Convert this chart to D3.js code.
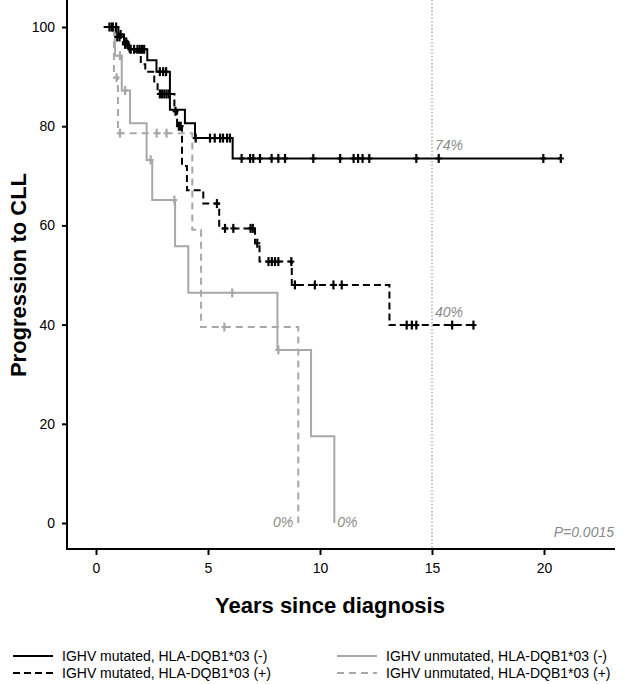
<!DOCTYPE html>
<html>
<head>
<meta charset="utf-8">
<script src="https://cdn.jsdelivr.net/npm/d3@7"></script>
<style>
  html, body { margin: 0; padding: 0; background: #fff; }
  svg { display: block; font-family: "Liberation Sans", Arial, Helvetica, sans-serif; }
</style>
</head>
<body>
<svg id="chart" width="633" height="684"></svg>
<script>
// ---------------- data ----------------
const xTicks = [0, 5, 10, 15, 20];
const yTicks = [0, 20, 40, 60, 80, 100];

// IGHV mutated, HLA-DQB1*03 (-)  (black solid)
const mutNegTimes = [0.35, 1.0, 1.25, 1.45, 2.29, 2.7, 3.3, 3.97, 4.42, 6.1];
const mutNegSurv  = [100, 98.5, 97, 95.5, 93.3, 91, 83.3, 80.6, 77.6, 73.5];
const mutNegEnd = 20.8;
const mutNegCensor = [0.6, 0.75, 0.9, 1.1, 1.35, 1.55, 1.7, 1.85, 1.95, 2.05, 2.15, 2.85, 3.0, 3.13,
  4.45, 5.09, 5.3, 5.54, 5.67, 5.85, 5.98, 6.5, 6.88, 7.02, 7.32, 7.84, 8.14, 8.44, 9.7, 10.9,
  11.5, 11.7, 11.9, 12.2, 14.3, 15.3, 19.97, 20.75];

// IGHV mutated, HLA-DQB1*03 (+)  (black dashed)
const mutPosTimes = [0.35, 0.9, 1.2, 1.5, 2.0, 2.2, 2.6, 2.75, 3.5, 3.62, 3.84, 4.06, 4.79, 5.5, 7.1, 7.3, 8.74, 13.1];
const mutPosSurv  = [100, 98, 96.5, 95, 92.5, 91, 89, 86.5, 83, 80, 72, 67.1, 64.4, 59.4, 56.4, 52.7, 48, 39.9];
const mutPosEnd = 16.9;
const mutPosCensor = [0.7, 0.95, 1.05, 1.3, 1.4, 2.85, 2.95, 3.05, 3.15, 3.25, 3.55, 3.7, 3.78, 5.4,
  5.76, 6.13, 6.9, 7.0, 7.2, 7.7, 7.85, 7.99, 8.14, 8.72, 8.88, 9.77, 10.6, 10.97, 13.87, 14.1, 14.3, 15.9, 16.85];

// IGHV unmutated, HLA-DQB1*03 (-)  (grey solid)
const unmNegTimes = [0.35, 0.85, 1.15, 1.52, 2.26, 2.51, 3.53, 4.12, 8.1, 9.6, 10.64];
const unmNegSurv  = [100, 94.2, 87.2, 80.6, 73.2, 65.1, 55.8, 46.4, 34.9, 17.5, 0];
const unmNegEnd = 10.64;
const unmNegCensor = [1.07, 1.3, 2.44, 3.5, 6.08, 8.14];

// IGHV unmutated, HLA-DQB1*03 (+)  (grey dashed)
const unmPosTimes = [0.35, 0.8, 0.98, 4.3, 4.69, 9.03];
const unmPosSurv  = [100, 89.8, 78.6, 59.1, 39.5, 0];
const unmPosEnd = 9.03;
const unmPosCensor = [0.92, 1.07, 2.71, 3.15, 5.73];

const legendLabels = [
  "IGHV mutated, HLA-DQB1*03 (-)",
  "IGHV mutated, HLA-DQB1*03 (+)",
  "IGHV unmutated, HLA-DQB1*03 (-)",
  "IGHV unmutated, HLA-DQB1*03 (+)"
];
const refYear = 15;
const pLabel = "P=0.0015";

// ---------------- chart ----------------
const svg = d3.select("#chart");
const x = d3.scaleLinear().domain([0, 20]).range([96, 544]);
const y = d3.scaleLinear().domain([0, 100]).range([523, 27]);
const axisY0 = 549, axisX0 = 67;

const BLACK = "#000", GREY = "#a8a8a8", LABEL = "#8a8a8a";

const series = [
  { times: mutNegTimes, surv: mutNegSurv, end: mutNegEnd, censor: mutNegCensor, color: BLACK, dash: null },
  { times: mutPosTimes, surv: mutPosSurv, end: mutPosEnd, censor: mutPosCensor, color: BLACK, dash: "7,4" },
  { times: unmNegTimes, surv: unmNegSurv, end: unmNegEnd, censor: unmNegCensor, color: GREY, dash: null },
  { times: unmPosTimes, surv: unmPosSurv, end: unmPosEnd, censor: unmPosCensor, color: GREY, dash: "7,5" }
];

// reference dotted line at 15 years
svg.append("line")
  .attr("x1", x(refYear)).attr("x2", x(refYear))
  .attr("y1", 0).attr("y2", axisY0)
  .attr("stroke", "#b0b0b0").attr("stroke-width", 1.5)
  .attr("stroke-dasharray", "1.5,2");

const line = d3.line().x(d => x(d[0])).y(d => y(d[1])).curve(d3.curveStepAfter);

function survAt(s, t) {
  let v = s.surv[0];
  for (let i = 0; i < s.times.length; i++) if (s.times[i] <= t) v = s.surv[i];
  return v;
}

// draw grey first, black on top
[3, 2, 1, 0].forEach(k => {
  const s = series[k];
  const pts = s.times.map((t, i) => [t, s.surv[i]]);
  const last = s.surv[s.surv.length - 1];
  if (s.end > s.times[s.times.length - 1]) pts.push([s.end, last]);
  const g = svg.append("g");
  g.append("path")
    .attr("d", line(pts))
    .attr("fill", "none")
    .attr("stroke", s.color)
    .attr("stroke-width", 2)
    .attr("stroke-dasharray", s.dash);
  g.selectAll("line.c").data(s.censor).join("line")
    .attr("class", "c")
    .attr("x1", d => x(d)).attr("x2", d => x(d))
    .attr("y1", d => y(survAt(s, d)) - 4.5)
    .attr("y2", d => y(survAt(s, d)) + 4.5)
    .attr("stroke", s.color).attr("stroke-width", 2.2);
  g.selectAll("line.h").data(s.censor).join("line")
    .attr("class", "h")
    .attr("x1", d => x(d) - 3).attr("x2", d => x(d) + 3)
    .attr("y1", d => y(survAt(s, d)))
    .attr("y2", d => y(survAt(s, d)))
    .attr("stroke", s.color).attr("stroke-width", 2);
});

// axes
const yAxis = d3.axisLeft(y).tickValues(yTicks).tickSize(5).tickPadding(7).tickSizeOuter(0);
const gy = svg.append("g").attr("transform", `translate(${axisX0},0)`).call(yAxis);
gy.select(".domain").remove();
gy.selectAll("line").attr("stroke", "#000").attr("stroke-width", 2);
gy.selectAll("text").attr("font-size", 14).attr("fill", "#000")
  .attr("font-family", "'Liberation Sans', Arial, sans-serif");

const xAxis = d3.axisBottom(x).tickValues(xTicks).tickSize(6).tickPadding(8).tickSizeOuter(0);
const gx = svg.append("g").attr("transform", `translate(0,${axisY0})`).call(xAxis);
gx.select(".domain").remove();
gx.selectAll("line").attr("stroke", "#000").attr("stroke-width", 2);
gx.selectAll("text").attr("font-size", 14).attr("fill", "#000")
  .attr("font-family", "'Liberation Sans', Arial, sans-serif");

svg.append("line").attr("x1", axisX0).attr("x2", axisX0).attr("y1", 0).attr("y2", axisY0 + 1)
  .attr("stroke", "#000").attr("stroke-width", 2);
svg.append("line").attr("x1", axisX0 - 1).attr("x2", 615).attr("y1", axisY0).attr("y2", axisY0)
  .attr("stroke", "#000").attr("stroke-width", 2);

// axis titles
svg.append("text")
  .attr("x", 330).attr("y", 613)
  .attr("text-anchor", "middle")
  .attr("font-size", 22).attr("font-weight", "bold")
  .text("Years since diagnosis");
svg.append("text")
  .attr("transform", "translate(26,275) rotate(-90)")
  .attr("text-anchor", "middle")
  .attr("font-size", 22).attr("font-weight", "bold")
  .text("Progression to CLL");

// percentage labels
const lbl = (tx, ty, txt, anchor) => svg.append("text")
  .attr("x", tx).attr("y", ty).attr("text-anchor", anchor || "start")
  .attr("font-size", 14).attr("font-style", "italic").attr("fill", LABEL).text(txt);
lbl(x(refYear) + 3, y(mutNegSurv[mutNegSurv.length - 1]) - 8, "74%");
lbl(x(refYear) + 3, y(mutPosSurv[mutPosSurv.length - 1]) - 8, "40%");
lbl(x(unmPosEnd) - 5, y(0) + 4, "0%", "end");
lbl(x(unmNegEnd) + 3, y(0) + 4, "0%");
lbl(614, 537, pLabel, "end");

// legend
const legendItems = [
  { label: legendLabels[0], color: BLACK, dash: null, lx: 13, ly: 656 },
  { label: legendLabels[1], color: BLACK, dash: "7,4", lx: 13, ly: 673 },
  { label: legendLabels[2], color: GREY, dash: null, lx: 337, ly: 656 },
  { label: legendLabels[3], color: GREY, dash: "7,5", lx: 337, ly: 673 }
];
const lg = svg.append("g");
legendItems.forEach(it => {
  lg.append("line").attr("x1", it.lx).attr("x2", it.lx + 40)
    .attr("y1", it.ly).attr("y2", it.ly)
    .attr("stroke", it.color).attr("stroke-width", 2).attr("stroke-dasharray", it.dash);
  lg.append("text").attr("x", it.lx + 49).attr("y", it.ly + 5)
    .attr("font-size", 14).attr("fill", "#000").text(it.label);
});
</script>
</body>
</html>
